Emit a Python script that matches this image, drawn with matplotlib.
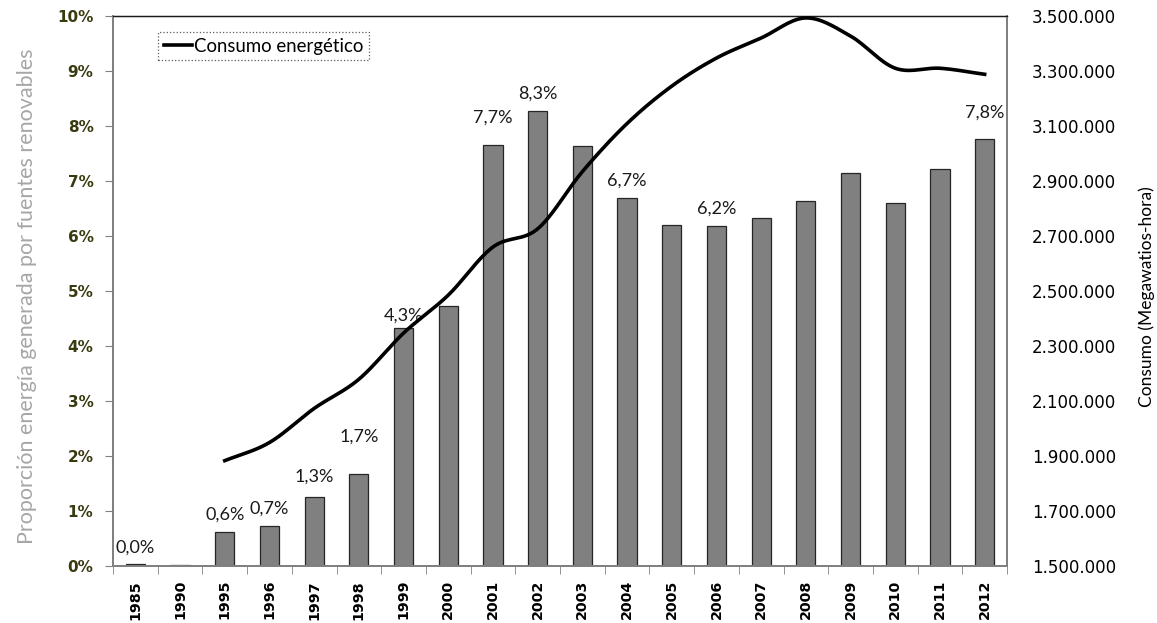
import numpy as np
import matplotlib
matplotlib.use("Agg")
import matplotlib.pyplot as plt
from matplotlib.ticker import FuncFormatter

years = ["1985", "1990", "1995", "1996", "1997", "1998", "1999", "2000", "2001", "2002",
         "2003", "2004", "2005", "2006", "2007", "2008", "2009", "2010", "2011", "2012"]
renewable_pct = [0.03, 0.02, 0.62, 0.72, 1.26, 1.68, 4.33, 4.72, 7.66, 8.27,
                 7.63, 6.70, 6.20, 6.18, 6.32, 6.64, 7.14, 6.60, 7.22, 7.76]
labelled_years = ["1985", "1995", "1996", "1997", "1998", "1999", "2001", "2002", "2004", "2006", "2012"]

consumo_years = ["1995", "1996", "1997", "1998", "1999", "2000", "2001", "2002", "2003",
                 "2004", "2005", "2006", "2007", "2008", "2009", "2010", "2011", "2012"]
consumo_mwh = [1883000, 1949000, 2073000, 2179000, 2347000, 2485000, 2660000, 2726000, 2934000,
               3109000, 3245000, 3347000, 3420000, 3493000, 3427000, 3310000, 3310000, 3288000]

pct_ticks = list(range(0, 11))
mwh_ticks = list(range(1500000, 3500001, 200000))

# vertical placement (in % axis units) of each value label's centre
label_height = {"1985": 0.33, "1995": 0.93, "1996": 1.04, "1997": 1.62, "1998": 2.36,
                "1999": 4.55, "2001": 8.16, "2002": 8.58, "2004": 7.0, "2006": 6.49, "2012": 8.24}

CAL = ["Lato", "DejaVu Sans"]
VER = ["DejaVu Sans"]


def smooth(xs, ys, n=30):
    """Catmull-Rom spline through the points, like a smoothed line chart."""
    xs = np.asarray(xs, float)
    ys = np.asarray(ys, float)
    px = np.concatenate([[2 * xs[0] - xs[1]], xs, [2 * xs[-1] - xs[-2]]])
    py = np.concatenate([[2 * ys[0] - ys[1]], ys, [2 * ys[-1] - ys[-2]]])
    ox, oy = [], []
    t = np.linspace(0, 1, n, endpoint=False)
    for i in range(1, len(px) - 2):
        for arr, out in ((px, ox), (py, oy)):
            p0, p1, p2, p3 = arr[i - 1], arr[i], arr[i + 1], arr[i + 2]
            out.extend(0.5 * ((2 * p1) + (-p0 + p2) * t
                              + (2 * p0 - 5 * p1 + 4 * p2 - p3) * t ** 2
                              + (-p0 + 3 * p1 - 3 * p2 + p3) * t ** 3))
    ox.append(xs[-1])
    oy.append(ys[-1])
    return np.array(ox), np.array(oy)


W, H = 1157, 623
L, R, T, B = 113, 1007, 16, 566
fig = plt.figure(figsize=(W / 100, H / 100), dpi=100)
ax = fig.add_axes([L / W, 1 - B / H, (R - L) / W, (B - T) / H])

x = np.arange(len(years))
ax.bar(x, renewable_pct, width=0.43, color="#808080", edgecolor="#262626", linewidth=0.9, zorder=2)
for xi, yr, v in zip(x, years, renewable_pct):
    if yr in labelled_years:
        ax.text(xi, label_height[yr], f"{v:.1f}%".replace(".", ","), ha="center", va="center",
                fontsize=13, family=CAL, color="#1a1a1a", zorder=4)

ax.set_xlim(-0.5, len(years) - 0.5)
ax.set_ylim(0, 10)
ax.set_yticks(pct_ticks)
ax.set_yticklabels([f"{t}%" for t in pct_ticks], fontsize=11, fontweight="bold",
                   family=VER, color="#3a3a10")
ax.set_xticks(x)
ax.set_xticklabels(years, rotation=90, fontsize=10.3, fontweight="bold", family=VER)
ax.tick_params(axis="x", length=0, pad=10)
ax.set_xticks(np.arange(-0.5, len(years), 1), minor=True)
ax.tick_params(axis="x", which="minor", length=6, color="#808080", direction="out")
ax.tick_params(axis="y", length=6, color="#808080", direction="out", pad=8)
ax.set_ylabel("Proporción energía generada por fuentes renovables", fontsize=15.5,
              family=CAL, color="#a6a6a6")
ax.yaxis.set_label_coords(-0.085, 0.49)

for side in ("left", "bottom", "right"):
    ax.spines[side].set_color("#808080")
    ax.spines[side].set_linewidth(1.3)
ax.spines["top"].set_color("#1a1a1a")
ax.spines["top"].set_linewidth(1.0)

ax2 = ax.twinx()
ax2.set_ylim(1500000, 3500000)
ax2.set_yticks(mwh_ticks)
ax2.yaxis.set_major_formatter(FuncFormatter(lambda v, p: f"{int(v):,}".replace(",", ".")))
for lbl in ax2.get_yticklabels():
    lbl.set_family(VER)
ax2.tick_params(axis="y", length=0, pad=18, labelsize=12)
ax2.set_ylabel("Consumo (Megawatios-hora)", fontsize=12.5, family=CAL)
ax2.yaxis.set_label_coords(1.147, 0.49)
for side in ("left", "bottom", "right"):
    ax2.spines[side].set_color("#808080")
    ax2.spines[side].set_linewidth(1.3)
ax2.spines["top"].set_color("#1a1a1a")

cx = [years.index(y) for y in consumo_years]
sx, sy = smooth(cx, consumo_mwh)
ax2.plot(sx, sy, color="black", linewidth=2.6, label="Consumo energético", zorder=3)

leg = ax2.legend(loc="upper left", bbox_to_anchor=((158 - L) / (R - L), 1 - (32 - T) / (B - T)),
                 prop={"family": CAL, "size": 13.4},
                 frameon=True, fancybox=False, handlelength=1.5, handletextpad=0.15,
                 borderpad=0.3, borderaxespad=0)
leg.get_frame().set_edgecolor("#333333")
leg.get_frame().set_linestyle(":")
leg.get_frame().set_linewidth(0.9)

fig.savefig("out.png", dpi=100)
